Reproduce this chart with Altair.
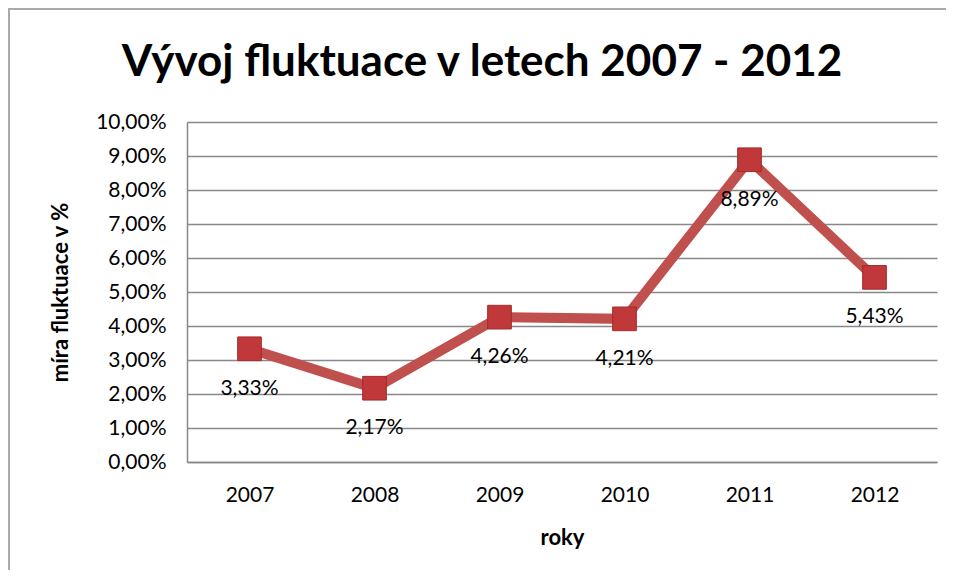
import altair as alt
import pandas as pd

years = ["2007", "2008", "2009", "2010", "2011", "2012"]
values = [0.0333, 0.0217, 0.0426, 0.0421, 0.0889, 0.0543]
labels = ["3,33%", "2,17%", "4,26%", "4,21%", "8,89%", "5,43%"]
y_ticks = [i / 100 for i in range(0, 11)]
title_text = "Vývoj fluktuace v letech 2007 - 2012"

df = pd.DataFrame({"rok": years, "hodnota": values, "popisek": labels})

FONT = "Lato"

x_enc = alt.X("rok:N", sort=years, title="roky",
              scale=alt.Scale(paddingInner=0, paddingOuter=0.5),
              axis=alt.Axis(labelAngle=0, ticks=False, labelPadding=22,
                            labelFontSize=21, labelFont=FONT, labelColor="black",
                            titleFont=FONT, titleFontSize=22, titleFontWeight="bold",
                            titleColor="black", titleY=75, titleBaseline="middle",
                            domainColor="#888888", domainWidth=1.5, grid=False))
y_enc = alt.Y("hodnota:Q", title="míra fluktuace v %",
              scale=alt.Scale(domain=[0, 0.10], nice=False),
              axis=alt.Axis(values=y_ticks, labelExpr="replace(format(datum.value, '.2%'), '.', ',')",
                            labelFontSize=21, labelFont=FONT, labelColor="black",
                            labelPadding=21, ticks=False,
                            titleFont=FONT, titleFontSize=22, titleFontWeight="bold",
                            titleColor="black", titleX=-127, titleY=170, titleAngle=-90,
                            titleBaseline="middle", titleAlign="center",
                            grid=True, gridColor="#888888", gridWidth=1.5,
                            domainColor="#888888", domainWidth=1.5))

base = alt.Chart(df).encode(x=x_enc, y=y_enc)

line = base.mark_line(color="#C0504D", strokeWidth=10)
points = base.mark_point(shape="square", size=560, filled=True, opacity=1,
                         color="#C0383A", stroke="#A52A2A", strokeWidth=1)
text = base.mark_text(dy=40, fontSize=21, font=FONT, color="black",
                      baseline="middle").encode(text="popisek:N")

title = alt.Chart(pd.DataFrame({"t": [title_text]})).mark_text(
    font=FONT, fontSize=44, fontWeight="bold", color="black",
    align="center", baseline="middle").encode(
    text="t:N", x=alt.value(295), y=alt.value(-59))

border_top = alt.Chart(df).mark_rule(color="#AAAAAA", strokeWidth=2).encode(
    x=alt.value(-179), x2=alt.value(900), y=alt.value(-113))
border_left = alt.Chart(df).mark_rule(color="#AAAAAA", strokeWidth=2).encode(
    x=alt.value(-178), y=alt.value(-114), y2=alt.value(600))

chart = alt.layer(border_top, border_left, title, line, points, text).properties(
    width=750, height=340,
    autosize=alt.AutoSizeParams(type="none"),
    padding={"left": 179, "top": 114, "right": 9, "bottom": 108},
).configure_view(stroke=None)

chart.save("out.html", embed_options={"renderer": "svg", "actions": False})
